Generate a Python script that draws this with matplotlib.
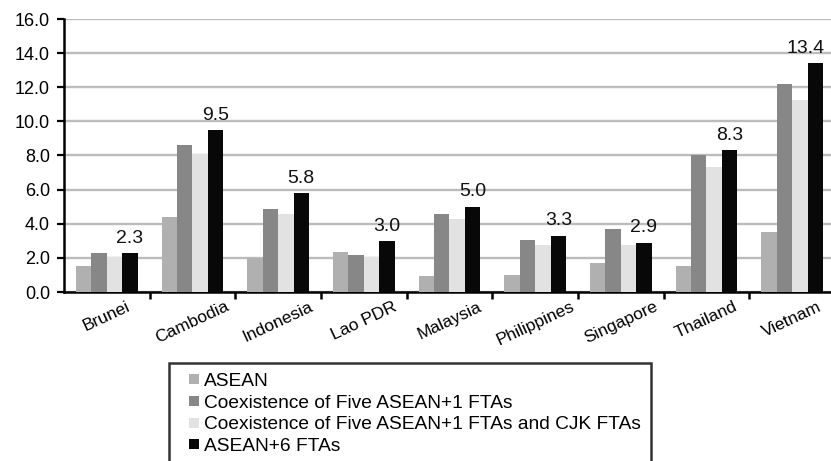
import numpy as np
import matplotlib
matplotlib.use("Agg")
import matplotlib.pyplot as plt
from matplotlib.patches import Rectangle
from matplotlib.legend_handler import HandlerPatch

plt.rcParams['font.family'] = ['Liberation Sans', 'DejaVu Sans']

countries = ['Brunei', 'Cambodia', 'Indonesia', 'Lao PDR', 'Malaysia',
             'Philippines', 'Singapore', 'Thailand', 'Vietnam']
series_names = ['ASEAN',
                'Coexistence of Five ASEAN+1 FTAs',
                'Coexistence of Five ASEAN+1 FTAs and CJK FTAs',
                'ASEAN+6 FTAs']
asean = [1.5, 4.4, 2.0, 2.35, 0.95, 1.0, 1.7, 1.5, 3.5]
five_fta = [2.3, 8.6, 4.85, 2.15, 4.55, 3.05, 3.7, 8.0, 12.2]
five_fta_cjk = [2.05, 8.1, 4.55, 2.05, 4.25, 2.75, 2.75, 7.35, 11.25]
asean6 = [2.3, 9.5, 5.8, 3.0, 5.0, 3.3, 2.9, 8.3, 13.4]
yticks = np.arange(0, 16.1, 2.0)

colors = ['#b0b0b0', '#878787', '#e2e2e2', '#080808']
series = [asean, five_fta, five_fta_cjk, asean6]


def square_handle(legend, orig_handle, xdescent, ydescent, width, height, fontsize):
    # small square pushed to the right end of the handle box
    sz = 7.2
    return Rectangle((-xdescent + width - sz, -ydescent + (height - sz) / 2), sz, sz)


fig = plt.figure(figsize=(8.31, 4.61), dpi=100)
ax = fig.add_axes([64/831, 169/461, 771/831, 273/461])

x = np.arange(len(countries))
w = 0.18
bars = []
for i, (vals, c, name) in enumerate(zip(series, colors, series_names)):
    bars.append(ax.bar(x + (i - 1.5) * w, vals, width=w, color=c, zorder=3))

# value labels above the ASEAN+6 bars, last one kept inside the figure
for xi, v in zip(x, asean6):
    if xi == len(countries) - 1:
        ax.annotate('%.1f' % v, (xi + 2 * w, v), xytext=(1, 4.5),
                    textcoords='offset points', ha='right', va='bottom',
                    fontsize=14, color='#111111', zorder=4)
    else:
        ax.annotate('%.1f' % v, (xi + 1.5 * w, v), xytext=(0, 4.5),
                    textcoords='offset points', ha='center', va='bottom',
                    fontsize=14, color='#111111', zorder=4)

ax.set_xlim(-0.5, len(countries) - 0.5)
ax.set_ylim(0, 16)
ax.set_yticks(yticks)
ax.set_yticklabels(['%.1f' % t for t in yticks], fontsize=13)
ax.yaxis.grid(True, color='#bcbcbc', linewidth=1.7, zorder=0)
ax.set_axisbelow(True)

ax.set_xticks(x)
ax.set_xticklabels(countries, rotation=25, fontsize=12.5)
ax.tick_params(axis='x', length=0, pad=5)
ax.set_xticks(np.arange(0.5, len(countries)), minor=True)
ax.tick_params(axis='x', which='minor', length=5, width=1.8, direction='out')
ax.tick_params(axis='y', length=5, width=1.6, pad=5)

for s in ['top', 'right']:
    ax.spines[s].set_visible(False)
ax.spines['left'].set_linewidth(1.8)
ax.spines['bottom'].set_linewidth(1.8)

handles = [b.patches[0] for b in bars]
leg = fig.legend(handles, series_names, loc='upper left',
                 bbox_to_anchor=(169/831, 1 - 363/461),
                 fontsize=13.8, frameon=True, fancybox=False, edgecolor='black',
                 handlelength=1.05, handleheight=0.7, handletextpad=0.3,
                 labelspacing=0.22, borderpad=0.5, borderaxespad=0,
                 handler_map={Rectangle: HandlerPatch(patch_func=square_handle)})
leg.get_frame().set_linewidth(1.8)

plt.savefig('out.png', dpi=100)
plt.close()
